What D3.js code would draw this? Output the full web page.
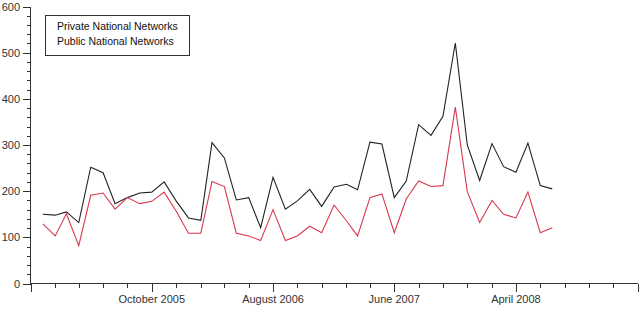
<!DOCTYPE html>
<meta charset="utf-8">
<head>
<style>
body{margin:0;background:#fff;}
text{font-family:"Liberation Sans",Arial,sans-serif;font-size:11px;fill:#333;}
.axis line,.axis path{stroke:#333;stroke-width:1px;shape-rendering:crispEdges;}
.series{fill:none;stroke-width:1.1px;}
</style>
</head>
<body>
<script src="https://d3js.org/d3.v7.min.js"></script>
<script>

// monthly values, January 2005 .. July 2008
var firstMonth = "2005-01";
var privateNet = [150,148,155,132,252,240,173,186,196,198,220,179,142,137,305,272,181,186,121,230,161,179,
	204,167,209,215,203,306,302,186,222,344,321,362,521,300,223,303,253,241,304,212,205];
var publicNet = [129,103,151,82,191,196,161,186,173,178,198,157,109,109,221,210,109,103,93,160,93,103,
	124,110,170,136,103,186,194,110,183,222,210,212,382,199,132,180,150,142,198,110,121];
var seriesNames = ["Private National Networks","Public National Networks"];
var seriesColors = ["#222222","#d8384f"];
var axisStart = "2004-12", axisEnd = "2009-02";
var xLabels = ["October 2005","August 2006","June 2007","April 2008"];
var yTicks = [0,100,200,300,400,500,600];

var W = 640, H = 309;
var svg = d3.select("body").append("svg").attr("width", W).attr("height", H);

var parse = d3.utcParse("%Y-%m");
var fmt = d3.utcFormat("%B %Y");
var t0 = parse(firstMonth);
var months = privateNet.map((d,i)=>d3.utcMonth.offset(t0, i));

var x = d3.scaleTime().domain([parse(axisStart), parse(axisEnd)]).range([30.5, 638]);
var y = d3.scaleLinear().domain([0,600]).range([283.5, 6.5]);

// x axis: tick every two months, longer tick where label sits (every 10 months)
var xt = d3.utcMonth.range(parse(axisStart), d3.utcMonth.offset(parse(axisEnd),1), 2);
var gx = svg.append("g").attr("class","axis");
gx.append("line").attr("x1",x.range()[0]).attr("x2",x.range()[1]).attr("y1",y(0)).attr("y2",y(0));
xt.forEach(function(t,i){
	var major = (i % 5 == 0);
	gx.append("line").attr("x1",Math.round(x(t))+0.5).attr("x2",Math.round(x(t))+0.5)
		.attr("y1",y(0)).attr("y2",y(0)+(major?8:4));
	if(major && xLabels.indexOf(fmt(t))>=0)
		gx.append("text").attr("x",x(t)).attr("y",303).attr("text-anchor","middle").text(fmt(t));
});

// y axis
var gy = svg.append("g").attr("class","axis");
gy.append("line").attr("x1",x.range()[0]).attr("x2",x.range()[0]).attr("y1",y(600)).attr("y2",y(0));
d3.range(0,601,20).forEach(function(v){
	var major = yTicks.indexOf(v)>=0;
	gy.append("line").attr("x1",x.range()[0]-(major?8:4)).attr("x2",x.range()[0])
		.attr("y1",Math.round(y(v))+0.5).attr("y2",Math.round(y(v))+0.5);
	if(major) gy.append("text").attr("x",20).attr("y",y(v)+4).attr("text-anchor","end").text(v);
});

var line = d3.line().x((d,i)=>x(months[i])).y(d=>y(d));
[privateNet, publicNet].forEach(function(s,k){
	svg.append("path").attr("class","series").attr("d",line(s)).attr("stroke",seriesColors[k]);
});

// legend
var lg = svg.append("g");
lg.append("rect").attr("x",45.5).attr("y",15.5).attr("width",144).attr("height",40)
	.attr("fill","#fff").attr("stroke","#333").attr("stroke-width",1);
seriesNames.forEach(function(n,i){
	lg.append("text").attr("x",57).attr("y",30+i*15).style("font-size","10.5px").style("fill","#111").text(n);
});
</script>
</body>
</html>
